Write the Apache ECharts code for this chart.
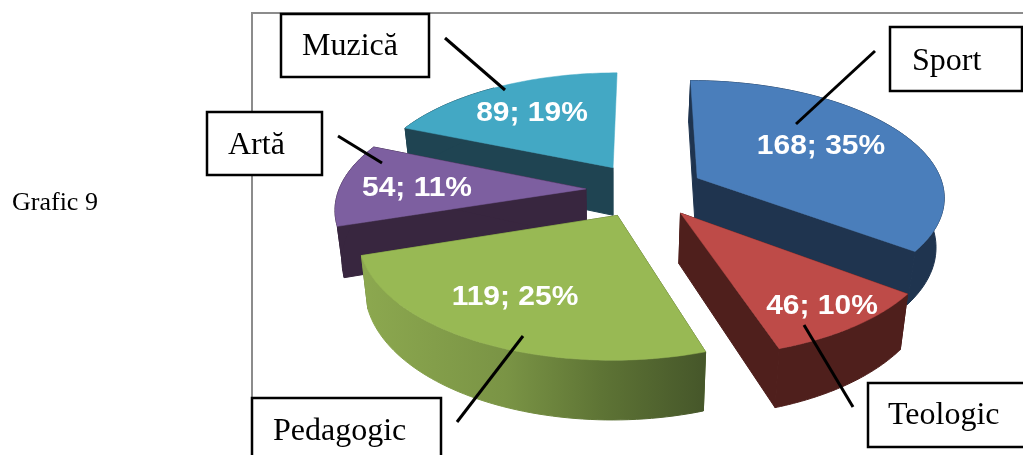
<!DOCTYPE html>
<html><head><meta charset="utf-8">
<style>html,body{margin:0;padding:0;background:#fff}#c{width:1023px;height:455px}</style>
<script src="https://cdn.jsdelivr.net/npm/echarts@6/dist/echarts.min.js"></script>
</head><body><div id="c"></div>
<script>
// ---- data ----
const categories = ['Sport', 'Teologic', 'Pedagogic', 'Artă', 'Muzică'];
const values = [168, 46, 119, 54, 89];
const percents = [35, 10, 25, 11, 19];

// ---- style / layout ----
const topColors = ['#4A7EBB', '#BE4B48', '#98B954', '#7D5FA0', '#43A8C4'];
const sideColors = ['#1F344F', '#4F1F1C', '#5F7535', '#38263F', '#1F4452'];
const drawOrder = [4, 0, 3, 1, 2];
const labelPositions = [[821, 146], [822, 306], [515, 297], [417, 188], [532, 113]];
const callouts = [
  {text: 'Sport', box: [890, 27, 132, 64], textX: 912, textY: 62, line: [875, 51, 796, 124]},
  {text: 'Teologic', box: [868, 383, 160, 64], textX: 888, textY: 416, line: [804, 325, 853, 407]},
  {text: 'Pedagogic', box: [252, 398, 189, 70], textX: 273, textY: 432, line: [523, 336, 457, 422]},
  {text: 'Artă', box: [207, 112, 115, 63], textX: 228, textY: 146, line: [338, 136, 382, 163]},
  {text: 'Muzică', box: [281, 14, 148, 63], textX: 302, textY: 47, line: [445, 38, 505, 90]}
];
const CX = 645, CY = 190, A = 247, B = 115, K = 0.148, EXPLODE = 0.24, DEPTH = 49, SHRINK = 0.975, SHRINK_X = 615;

// disk coordinates -> screen (perspective view of the tilted pie)
function project(u, v, lower) {
  const d = 1 - K * v;
  let x = CX + A * u / d, y = CY + B * v / d;
  if (lower) { x = SHRINK_X + (x - SHRINK_X) * SHRINK; y += DEPTH / d; }
  return [x, y];
}
const total = values.reduce((a, b) => a + b, 0);
const angles = [];
values.reduce((acc, v, i) => { angles[i] = [acc, acc + v / total * 2 * Math.PI]; return acc + v / total * 2 * Math.PI; }, 0);

function diskPoint(i, theta, r) {
  const mid = (angles[i][0] + angles[i][1]) / 2;
  return [EXPLODE * Math.sin(mid) + r * Math.sin(theta), -EXPLODE * Math.cos(mid) - r * Math.cos(theta)];
}
function poly(points, fill, lineWidth) {
  return {type: 'polygon', shape: {points}, style: {fill, stroke: fill, lineWidth}};
}
function wallFill(i) {
  if (categories[i] === 'Pedagogic') {
    return {type: 'linear', x: 363, y: 0, x2: 703, y2: 0, global: true, colorStops: [
      {offset: 0, color: '#8CA84F'}, {offset: 0.42, color: '#7A9445'},
      {offset: 0.7, color: '#5E7435'}, {offset: 1, color: '#46572A'}]};
  }
  return sideColors[i];
}
function renderItem(params, api) {
  const i = api.value(0);
  const [a0, a1] = angles[i];
  const n = 60;
  const upper = [], lower = [];
  for (let k = 0; k <= n; k++) {
    const [u, v] = diskPoint(i, a0 + (a1 - a0) * k / n, 1);
    upper.push(project(u, v, false));
    lower.push(project(u, v, true));
  }
  const [au, av] = diskPoint(i, 0, 0);
  const apexT = project(au, av, false), apexB = project(au, av, true);
  const side = sideColors[i];
  const children = [poly([apexT, upper[0], lower[0], apexB], side, 1)];
  // the closing cut face of the last slice faces away from the viewer
  if (i !== values.length - 1) children.push(poly([apexT, upper[n], lower[n], apexB], side, 1));
  if (i !== values.length - 1) children.push(poly(upper.concat(lower.slice().reverse()), wallFill(i), 1));
  else children.push(poly(upper.slice(0, 30).concat(lower.slice(0, 30).reverse()), wallFill(i), 1));
  children.push(poly([apexT].concat(upper), topColors[i], 0.5));
  children.push({type: 'text', x: labelPositions[i][0], y: labelPositions[i][1], scaleX: 1.07,
     style: {text: values[i] + '; ' + percents[i] + '%', fill: '#fff', align: 'center', verticalAlign: 'middle',
             font: 'bold 28px "Liberation Sans", Arial, sans-serif'}});
  return {type: 'group', children};
}

const serif = '"Liberation Serif", "Times New Roman", serif';
const graphics = [
  {type: 'polyline', z: 1, shape: {points: [[252, 400], [252, 13], [1023, 13]]}, style: {stroke: '#8C8C8C', lineWidth: 2, fill: null}},
  {type: 'text', z: 5, x: 12, y: 203, style: {text: 'Grafic 9', fill: '#000', font: '26px ' + serif, verticalAlign: 'middle'}}
];
callouts.forEach(c => {
  graphics.push({type: 'line', z: 10, shape: {x1: c.line[0], y1: c.line[1], x2: c.line[2], y2: c.line[3]}, style: {stroke: '#000', lineWidth: 3}});
  graphics.push({type: 'rect', z: 11, shape: {x: c.box[0], y: c.box[1], width: c.box[2], height: c.box[3]}, style: {fill: '#fff', stroke: '#000', lineWidth: 2.5}});
  graphics.push({type: 'text', z: 12, x: c.textX, y: c.textY, style: {text: c.text, fill: '#000', font: '32px ' + serif, verticalAlign: 'middle'}});
});

const chart = echarts.init(document.getElementById('c'), null, {renderer: 'canvas'});
chart.setOption({
  animation: false,
  backgroundColor: '#fff',
  graphic: graphics,
  series: [{
    type: 'custom',
    coordinateSystem: 'none',
    renderItem,
    silent: true,
    z: 3,
    data: drawOrder.map(i => [i, values[i]])
  }]
});
</script></body></html>
